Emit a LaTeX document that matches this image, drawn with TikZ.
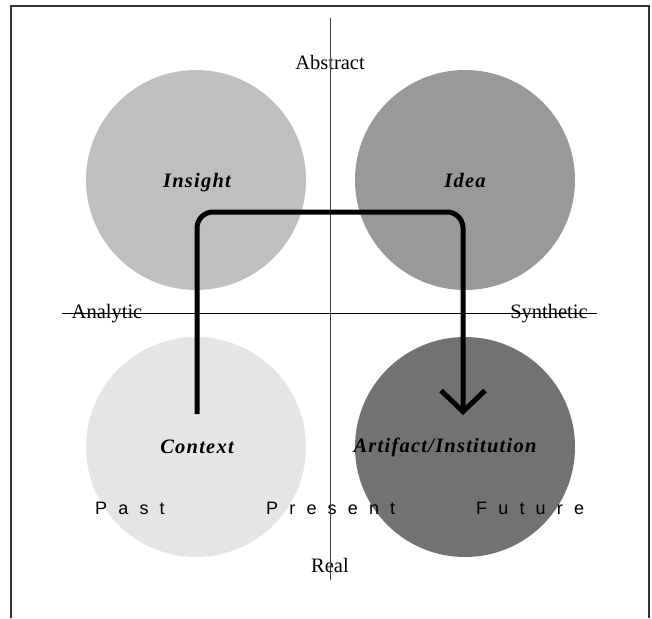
\documentclass[tikz,border=0pt]{standalone}
\usepackage{fontspec}
\setmainfont{Liberation Serif}
\newfontfamily\timefont[LetterSpace=62]{Liberation Sans}
\newfontfamily\quadfont[LetterSpace=6]{Liberation Serif}
\usetikzlibrary{arrows.meta}

\definecolor{insightgray}{HTML}{BFBFBF}
\definecolor{ideagray}{HTML}{999999}
\definecolor{contextgray}{HTML}{E5E5E5}
\definecolor{artifactgray}{HTML}{727272}
\definecolor{framegray}{HTML}{333333}

\begin{document}
\begin{tikzpicture}[x=1pt,y=-1pt,
  quad/.style={circle, minimum size=220pt, inner sep=0pt, draw=none},
  frameline/.style={draw=framegray, line width=1.6pt},
  axis/.style={line width=0.9pt},
  axislabel/.style={font=\fontsize{20.5}{24}\selectfont, anchor=base, inner sep=0pt},
  quadlabel/.style={font=\quadfont\bfseries\itshape\fontsize{20.5}{24}\selectfont, anchor=base, inner sep=0pt},
  timelabel/.style={font=\timefont\fontsize{18}{22}\selectfont, anchor=base west, inner sep=0pt},
  flow/.style={line width=5pt, rounded corners=16pt, -{Straight Barb[length=21pt, width=44pt]}}
]
\useasboundingbox (0,0) rectangle (652,618);

% open frame (no bottom edge)
\coordinate (fbl) at (11,618);
\coordinate (ftl) at (11,6);
\coordinate (ftr) at (649,6);
\coordinate (fbr) at (649,618);
\draw[frameline] (fbl) -- (ftl) -- (ftr) -- (fbr);

% the four quadrant discs
\node[quad, fill=insightgray]  (insight)  at (196,180) {};
\node[quad, fill=ideagray]     (idea)     at (465,180) {};
\node[quad, fill=contextgray]  (context)  at (196,447) {};
\node[quad, fill=artifactgray] (artifact) at (465,447) {};

% quadrant labels
\node[quadlabel] (linsight)  at (197,187) {Insight};
\node[quadlabel] (lidea)     at (465,187) {Idea};
\node[quadlabel] (lcontext)  at (197,453) {Context};
\node[quadlabel] (lartifact) at (445,452) {Artifact/Institution};

% time line
\node[timelabel] (past)    at (95,514)  {Past};
\node[timelabel] (present) at (266,514) {Present};
\node[timelabel] (future)  at (476,514) {Future};

% axis labels
\node[axislabel] (abstract)  at (330,70)  {Abstract};
\node[axislabel] (real)      at (330,572) {Real};
\node[axislabel] (analytic)  at (107,318) {Analytic};
\node[axislabel] (synthetic) at (549,318) {Synthetic};

% axes
\coordinate (vtop) at (330,18);
\coordinate (vbot) at (330,580);
\coordinate (hl) at (62,313.5);
\coordinate (hr) at (597,313.5);
\draw[axis, draw=black!75] (vtop) -- (vbot);
\draw[axis] (hl) -- (hr);

% the path from context through insight and idea to artifact
\coordinate (fstart) at (197,414);
\coordinate (fbendA) at (197,212);
\coordinate (fbendB) at (463,212);
\coordinate (fend)   at (463,415);
\draw[flow] (fstart) -- (fbendA) -- (fbendB) -- (fend);
\end{tikzpicture}
\end{document}
